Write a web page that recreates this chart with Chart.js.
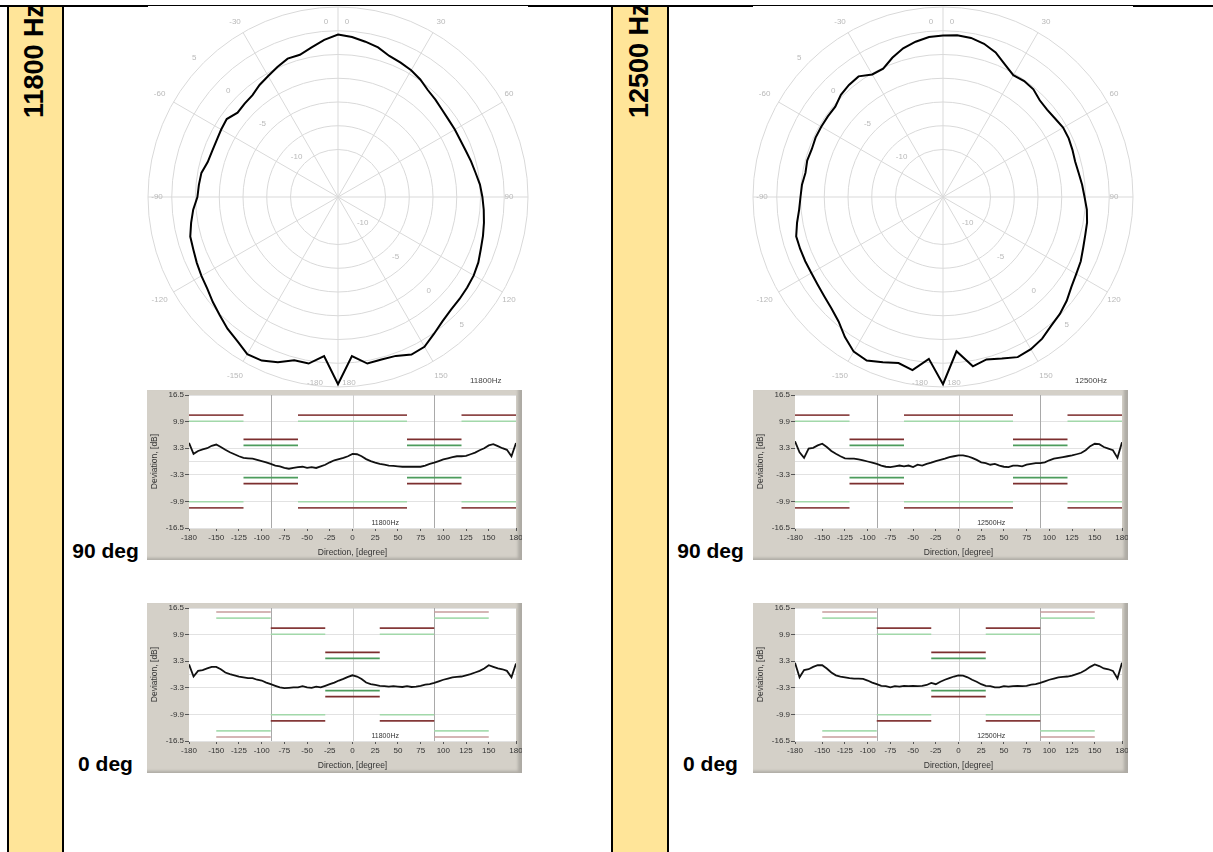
<!DOCTYPE html>
<html>
<head>
<meta charset="utf-8">
<title>Directivity 11800 Hz / 12500 Hz</title>
<script src="https://cdn.jsdelivr.net/npm/chart.js@4.4.1/dist/chart.umd.min.js"></script>
<style>
  body { margin: 0; width: 1213px; height: 852px; position: relative; overflow: hidden; background: #fff;
         font-family: Arial, "Liberation Sans", sans-serif; }
  .rule { position: absolute; background: #000; }
  .band { position: absolute; background: #ffe599; overflow: hidden; }
  .freq { position: absolute; left: 12px; top: 111px; transform: rotate(-90deg); transform-origin: 0 0;
          white-space: nowrap; font: bold 27px Arial, "Liberation Sans", sans-serif; line-height: 27px; color: #000; }
  .tag { position: absolute; width: 83px; text-align: center; font: bold 21px Arial, "Liberation Sans", sans-serif;
         line-height: 21px; color: #000; }
  .plate { position: absolute; width: 380px; height: 381px; background: #fff; }
  .polar { position: absolute; }
  .panel { position: absolute; width: 375px; height: 170px; background: #d4d0c8;
           box-shadow: inset -4px -2px 3px rgba(0, 0, 0, 0.18); }
  .panel canvas { display: block; }
</style>
</head>
<body>
  <!-- table rules and the two frequency bands -->
  <div class="rule" style="left:0;top:5px;width:1213px;height:2px"></div>
  <div class="rule" style="left:7px;top:5px;width:2px;height:847px"></div>
  <div class="band" style="left:9px;top:7px;width:53px;height:845px"><div class="freq" style="left:12px">11800 Hz</div></div>
  <div class="rule" style="left:62px;top:5px;width:2px;height:847px"></div>
  <div class="rule" style="left:611px;top:5px;width:2px;height:847px"></div>
  <div class="band" style="left:613px;top:7px;width:54px;height:845px"><div class="freq" style="left:13px">12500 Hz</div></div>
  <div class="rule" style="left:667px;top:5px;width:2px;height:847px"></div>

  <div class="plate" style="left:148px;top:6px"></div>
  <canvas id="polar1" class="polar" width="384" height="384" style="left:146px;top:5px"></canvas>
  <div class="plate" style="left:753px;top:6px"></div>
  <canvas id="polar2" class="polar" width="384" height="384" style="left:751px;top:5px"></canvas>

  <div class="panel" style="left:147px;top:390px"><canvas id="dev1a" width="375" height="170"></canvas></div>
  <div class="panel" style="left:147px;top:603px"><canvas id="dev1b" width="375" height="170"></canvas></div>
  <div class="panel" style="left:753px;top:390px"><canvas id="dev2a" width="375" height="170"></canvas></div>
  <div class="panel" style="left:753px;top:603px"><canvas id="dev2b" width="375" height="170"></canvas></div>

  <div class="tag" style="left:64px;top:540px">90 deg</div>
  <div class="tag" style="left:64px;top:753px">0 deg</div>
  <div class="tag" style="left:669px;top:540px">90 deg</div>
  <div class="tag" style="left:669px;top:753px">0 deg</div>

<script>
// polar samples, bearing in degrees clockwise from front (level in dB)
const polarAngles = [0, 5, 10, 15, 20, 25, 30, 35, 40, 45, 50, 55, 60, 65, 70, 75, 80, 85,
  90, 95, 100, 105, 110, 115, 120, 125, 130, 135, 140, 145, 150, 155, 160, 165, 170, 175,
  180, 185, 190, 195, 200, 205, 210, 215, 220, 225, 230, 235, 240, 245, 250, 255, 260, 265,
  270, 275, 280, 285, 290, 295, 300, 305, 310, 315, 320, 325, 330, 335, 340, 345, 350, 355];

const polar11800 = [2.1, 1.9, 1.6, 1.3, 0.8, 0.6, 0.4, 0.1, -0.3, -0.5, -0.7, -0.8, -0.8, -0.8, -0.7, -0.5, -0.3, 0.0,
  0.2, 0.4, 0.6, 0.8, 1.0, 1.3, 1.5, 1.6, 1.7, 1.8, 2.1, 2.6, 3.2, 3.3, 2.8, 2.7, 2.8, 1.8,
  4.7, 1.8, 2.8, 2.8, 3.5, 4.0, 4.1, 3.5, 3.1, 2.6, 2.2, 1.8, 1.6, 1.4, 1.2, 1.1, 0.7, 0.3,
  -0.2, -0.3, -0.4, -0.8, -0.9, -0.9, -0.8, -0.7, -1.2, -1.1, -1.0, -0.6, -0.3, 0.1, 0.5, 0.5, 1.0, 1.6];

const polar12500 = [2.0, 2.1, 2.0, 1.7, 1.2, 0.4, -0.2, -0.1, -0.2, -0.6, -0.7, -0.6, -0.4, -0.4, -0.5, -0.6, -0.5, -0.3,
  -0.1, 0.2, 0.4, 0.5, 0.7, 1.0, 1.2, 1.5, 2.0, 2.4, 2.7, 3.2, 3.5, 3.6, 3.1, 2.7, 3.1, 1.3,
  4.7, 2.1, 3.5, 3.1, 3.5, 4.0, 3.8, 3.0, 2.1, 1.6, 1.3, 1.1, 1.0, 1.0, 1.0, 1.0, 0.6, 0.2,
  0.0, -0.1, -0.3, -0.2, -0.3, -0.2, -0.2, -0.2, -0.2, 0.2, 0.4, 0.5, -0.1, -0.1, 0.6, 1.2, 1.6, 1.9];

const ringValues = [-10, -7.5, -5, -2.5, 0, 2.5, 5];
const ringLabels = [-10, -5, 0, 5];
const spokeLabels = [0, 30, 60, 90, 120, 150, 180, -150, -120, -90, -60, -30];

// deviation curves against direction
const directions = [-180, -175, -170, -165, -160, -155, -150, -145, -140, -135, -130, -125, -120,
  -115, -110, -105, -100, -95, -90, -85, -80, -75, -70, -65, -60, -55, -50, -45, -40, -35, -30,
  -25, -20, -15, -10, -5, 0, 5, 10, 15, 20, 25, 30, 35, 40, 45, 50, 55, 60, 65, 70, 75, 80, 85,
  90, 95, 100, 105, 110, 115, 120, 125, 130, 135, 140, 145, 150, 155, 160, 165, 170, 175, 180];

const dev11800at90 = [4.6, 1.9, 2.6, 3.0, 3.3, 3.9, 4.2, 3.6, 2.9, 2.3, 1.8, 1.3, 0.9,
  0.8, 0.7, 0.4, 0.1, -0.2, -0.6, -1.0, -1.2, -1.6, -1.8, -1.6, -1.4, -1.3, -1.6, -1.4, -1.6, -1.2, -0.8,
  -0.2, 0.3, 0.6, 0.9, 1.3, 1.9, 1.8, 1.3, 0.6, 0.1, -0.3, -0.6, -0.8, -1.0, -1.1, -1.2, -1.3, -1.3, -1.3, -1.3, -1.3, -1.0, -0.6,
  -0.3, 0.1, 0.5, 0.8, 1.1, 1.3, 1.3, 1.4, 1.8, 2.2, 2.8, 3.3, 4.0, 4.3, 3.8, 3.3, 2.9, 1.3, 4.6];

const dev11800at0 = [2.5, -0.5, 0.9, 1.1, 1.5, 1.9, 1.9, 1.3, 0.5, 0.1, -0.2, -0.5, -0.7,
  -0.9, -0.9, -1.3, -1.5, -2.0, -2.4, -2.8, -3.2, -3.4, -3.3, -3.2, -3.2, -2.9, -3.2, -3.3, -3.0, -3.2, -2.8,
  -2.4, -2.0, -1.5, -1.1, -0.6, -0.2, -0.5, -1.1, -2.0, -2.4, -2.6, -2.8, -2.9, -3.0, -2.9, -3.0, -3.1, -2.9, -3.1, -3.0, -2.8, -2.5, -2.4,
  -2.1, -1.7, -1.3, -1.0, -0.7, -0.6, -0.5, -0.2, 0.1, 0.5, 0.9, 1.5, 2.3, 1.9, 1.5, 1.3, 0.9, -0.7, 2.7];

const dev12500at90 = [5.0, 2.3, 0.9, 3.2, 3.4, 4.0, 4.4, 3.6, 2.6, 1.9, 1.3, 0.8, 0.7,
  0.7, 0.5, 0.3, 0.0, -0.3, -0.6, -1.0, -1.3, -1.4, -1.2, -1.0, -1.2, -1.0, -1.4, -0.8, -1.0, -0.6, -0.3,
  0.1, 0.4, 0.7, 1.1, 1.3, 1.5, 1.5, 1.3, 0.9, 0.4, -0.2, -0.4, -0.8, -0.6, -1.0, -1.3, -1.4, -1.0, -1.0, -1.2, -0.8, -0.6, -0.4,
  -0.4, -0.2, 0.3, 0.7, 0.9, 1.1, 1.3, 1.5, 1.8, 2.1, 2.8, 3.8, 4.4, 4.3, 3.6, 3.2, 2.8, 0.9, 4.8];

const dev12500at0 = [2.9, -0.7, 1.1, 1.3, 1.9, 2.3, 2.3, 1.5, 0.5, -0.2, -0.5, -0.7, -0.9,
  -1.0, -1.0, -1.1, -1.5, -2.0, -2.4, -2.8, -2.9, -3.2, -2.9, -3.0, -2.8, -2.9, -2.8, -2.9, -2.8, -2.6, -2.1,
  -2.4, -1.8, -1.3, -0.9, -0.5, -0.2, -0.3, -0.7, -1.3, -1.8, -2.4, -2.8, -2.9, -3.2, -3.2, -2.9, -3.0, -2.9, -2.8, -2.9, -2.8, -2.5, -2.4,
  -2.1, -1.7, -1.3, -1.0, -0.7, -0.6, -0.5, -0.3, 0.1, 0.5, 1.1, 1.9, 2.5, 2.1, 1.5, 1.3, 0.9, -1.0, 2.9];

const directionTicks = [-180, -150, -125, -100, -75, -50, -25, 0, 25, 50, 75, 100, 125, 150, 180];
const deviationTicks = [-16.5, -9.9, -3.3, 0, 3.3, 9.9, 16.5];
const guideDirections = [-90, 0, 90];

// tolerance bands (mirrored to +/-), one entry per tier
const rangesAt90 = [[[-180, -120], [-60, 60], [120, 180]], [[-120, -60], [60, 120]]];
const greenAt90 = [10, 4];
const redAt90 = [11.5, 5.5];
const rangesAt0 = [[[-150, -90], [90, 150]], [[-90, -30], [30, 90]], [[-30, 30]]];
const greenAt0 = [14, 10, 4];
const redAt0 = [15.5, 11.5, 5.5];

Chart.defaults.font.family = 'Arial, "Liberation Sans", sans-serif';
Chart.defaults.animation = false;

const toRad = d => d * Math.PI / 180;

// bearings, ring values and the frequency tag around the polar grid
const polarText = {
  id: 'polarText',
  beforeDatasetsDraw(chart, args, opts) {
    const r = chart.scales.r;
    const { ctx, chartArea: a } = chart;
    const xc = r.xCenter, yc = r.yCenter;
    const pos = (deg, dist) => [xc + dist * Math.sin(toRad(deg)), yc - dist * Math.cos(toRad(deg))];
    const clampX = x => Math.min(Math.max(x, a.left + 9), a.right - 19);
    const clampY = y => Math.min(Math.max(y, a.top + 15), a.bottom - 4);

    ctx.save();
    ctx.font = '8px Arial, "Liberation Sans", sans-serif';
    ctx.fillStyle = '#b9b9b9';
    ctx.textAlign = 'center';
    ctx.textBaseline = 'middle';

    spokeLabels.forEach(deg => {
      const [x, y] = pos(deg, 206);
      if (deg === 0) {
        ctx.fillText('0', xc - 12, clampY(y));
        ctx.fillText('0', xc + 9, clampY(y));
      } else if (deg === 180) {
        ctx.fillText('-180', xc - 23, clampY(y));
        ctx.fillText('180', xc + 11, clampY(y));
      } else {
        ctx.fillText(String(deg), clampX(x), clampY(y));
      }
    });

    ringLabels.forEach(v => {
      const d = r.getDistanceFromCenterForValue(v);
      let [x, y] = pos(-46, d + 10);
      ctx.fillText(String(v), x, y);
      [x, y] = pos(136, d - 12);
      ctx.fillText(String(v), x, y);
    });

    ctx.fillStyle = '#444';
    ctx.textAlign = 'left';
    ctx.fillText(opts.freq, a.right - 58, a.bottom - 6);
    ctx.restore();
  }
};

function makePolar(id, values, freq) {
  new Chart(document.getElementById(id), {
    type: 'radar',
    data: {
      labels: polarAngles,
      datasets: [{
        data: values,
        borderColor: '#000',
        borderWidth: 2,
        backgroundColor: 'transparent',
        fill: false,
        pointRadius: 0,
        tension: 0
      }]
    },
    options: {
      responsive: false,
      layout: { padding: 2 },
      plugins: { legend: { display: false }, tooltip: { enabled: false }, polarText: { freq } },
      scales: {
        r: {
          min: -15,
          max: 5,
          afterBuildTicks: scale => { scale.ticks = ringValues.map(v => ({ value: v })); },
          ticks: { display: false },
          grid: { circular: true, color: '#d9d9d9', lineWidth: 1 },
          angleLines: { color: c => (polarAngles[c.index] % 30 === 0 ? '#d9d9d9' : 'transparent'), lineWidth: 1 },
          pointLabels: { display: false }
        }
      }
    },
    plugins: [polarText]
  });
}

// white plot field, the three direction guides and the frequency tag
const devDecor = {
  id: 'devDecor',
  beforeDraw(chart) {
    const { ctx, chartArea: a } = chart;
    ctx.save();
    ctx.fillStyle = '#fff';
    ctx.fillRect(a.left, a.top, a.width, a.height);
    ctx.restore();
  },
  beforeDatasetsDraw(chart, args, opts) {
    const { ctx, chartArea: a, scales: { x } } = chart;
    ctx.save();
    ctx.lineWidth = 1;
    guideDirections.forEach(d => {
      const px = Math.round(x.getPixelForValue(d)) + 0.5;
      ctx.strokeStyle = d === 0 ? '#cfcfcf' : '#a9a9a9';
      ctx.beginPath();
      ctx.moveTo(px, a.top);
      ctx.lineTo(px, a.bottom);
      ctx.stroke();
    });
    ctx.font = '7px Arial, "Liberation Sans", sans-serif';
    ctx.fillStyle = '#333';
    ctx.textAlign = 'center';
    ctx.textBaseline = 'bottom';
    ctx.fillText(opts.freq, x.getPixelForValue(36), a.bottom - 1);
    ctx.restore();
  }
};

const tierColors90 = [
  { green: '#a2d8aa', red: '#8e4848' },
  { green: '#4d9c5c', red: '#7c2e2e' }
];
const tierColors0 = [
  { green: '#a8dcb0', red: '#c79c9c' },
  { green: '#a2d8aa', red: '#843838' },
  { green: '#4d9c5c', red: '#7c2e2e' }
];

function bandSegment(from, to, level, color) {
  return {
    data: [{ x: from, y: level }, { x: to, y: level }],
    borderColor: color,
    borderWidth: 1.6,
    pointRadius: 0,
    fill: false
  };
}

function makeDeviation(id, values, ranges, greens, reds, colors, freq) {
  const datasets = [{
    data: directions.map((d, i) => ({ x: d, y: values[i] })),
    borderColor: '#111',
    borderWidth: 1.8,
    pointRadius: 0,
    fill: false,
    tension: 0
  }];
  ranges.forEach((tier, t) => {
    tier.forEach(([from, to]) => {
      datasets.push(bandSegment(from, to, greens[t], colors[t].green));
      datasets.push(bandSegment(from, to, -greens[t], colors[t].green));
      datasets.push(bandSegment(from, to, reds[t], colors[t].red));
      datasets.push(bandSegment(from, to, -reds[t], colors[t].red));
    });
  });

  new Chart(document.getElementById(id), {
    type: 'line',
    data: { datasets },
    options: {
      responsive: false,
      layout: { padding: { top: 5, right: 6, left: 0, bottom: 0 } },
      plugins: { legend: { display: false }, tooltip: { enabled: false }, devDecor: { freq } },
      scales: {
        x: {
          type: 'linear',
          min: -180,
          max: 180,
          afterBuildTicks: scale => { scale.ticks = directionTicks.map(v => ({ value: v })); },
          afterFit: scale => { scale.height = 32; scale.paddingLeft = 0; scale.paddingRight = 0; },
          ticks: { autoSkip: false, maxRotation: 0, padding: 2, color: '#333', font: { size: 8 } },
          grid: { drawOnChartArea: false, drawTicks: true, tickLength: 3, tickColor: '#555' },
          border: { display: false },
          title: { display: true, text: 'Direction, [degree]', color: '#333', font: { size: 8.5 }, padding: { top: 0, bottom: 2 } }
        },
        y: {
          min: -16.5,
          max: 16.5,
          afterBuildTicks: scale => { scale.ticks = deviationTicks.map(v => ({ value: v })); },
          afterFit: scale => { scale.width = 42; scale.paddingTop = 0; scale.paddingBottom = 0; },
          ticks: {
            padding: 1,
            color: '#333',
            font: { size: 8 },
            callback: v => (v === 0 ? '' : v.toFixed(1))
          },
          grid: {
            color: '#e2e2e2',
            drawTicks: true,
            tickLength: 4,
            tickColor: c => (c.tick && c.tick.value === 0 ? 'transparent' : '#555')
          },
          border: { display: false },
          title: { display: true, text: 'Deviation, [dB]', color: '#333', font: { size: 8.5 }, padding: { top: 3, bottom: 0 } }
        }
      }
    },
    plugins: [devDecor]
  });
}

makePolar('polar1', polar11800, '11800Hz');
makePolar('polar2', polar12500, '12500Hz');
makeDeviation('dev1a', dev11800at90, rangesAt90, greenAt90, redAt90, tierColors90, '11800Hz');
makeDeviation('dev1b', dev11800at0, rangesAt0, greenAt0, redAt0, tierColors0, '11800Hz');
makeDeviation('dev2a', dev12500at90, rangesAt90, greenAt90, redAt90, tierColors90, '12500Hz');
makeDeviation('dev2b', dev12500at0, rangesAt0, greenAt0, redAt0, tierColors0, '12500Hz');
</script>
</body>
</html>
